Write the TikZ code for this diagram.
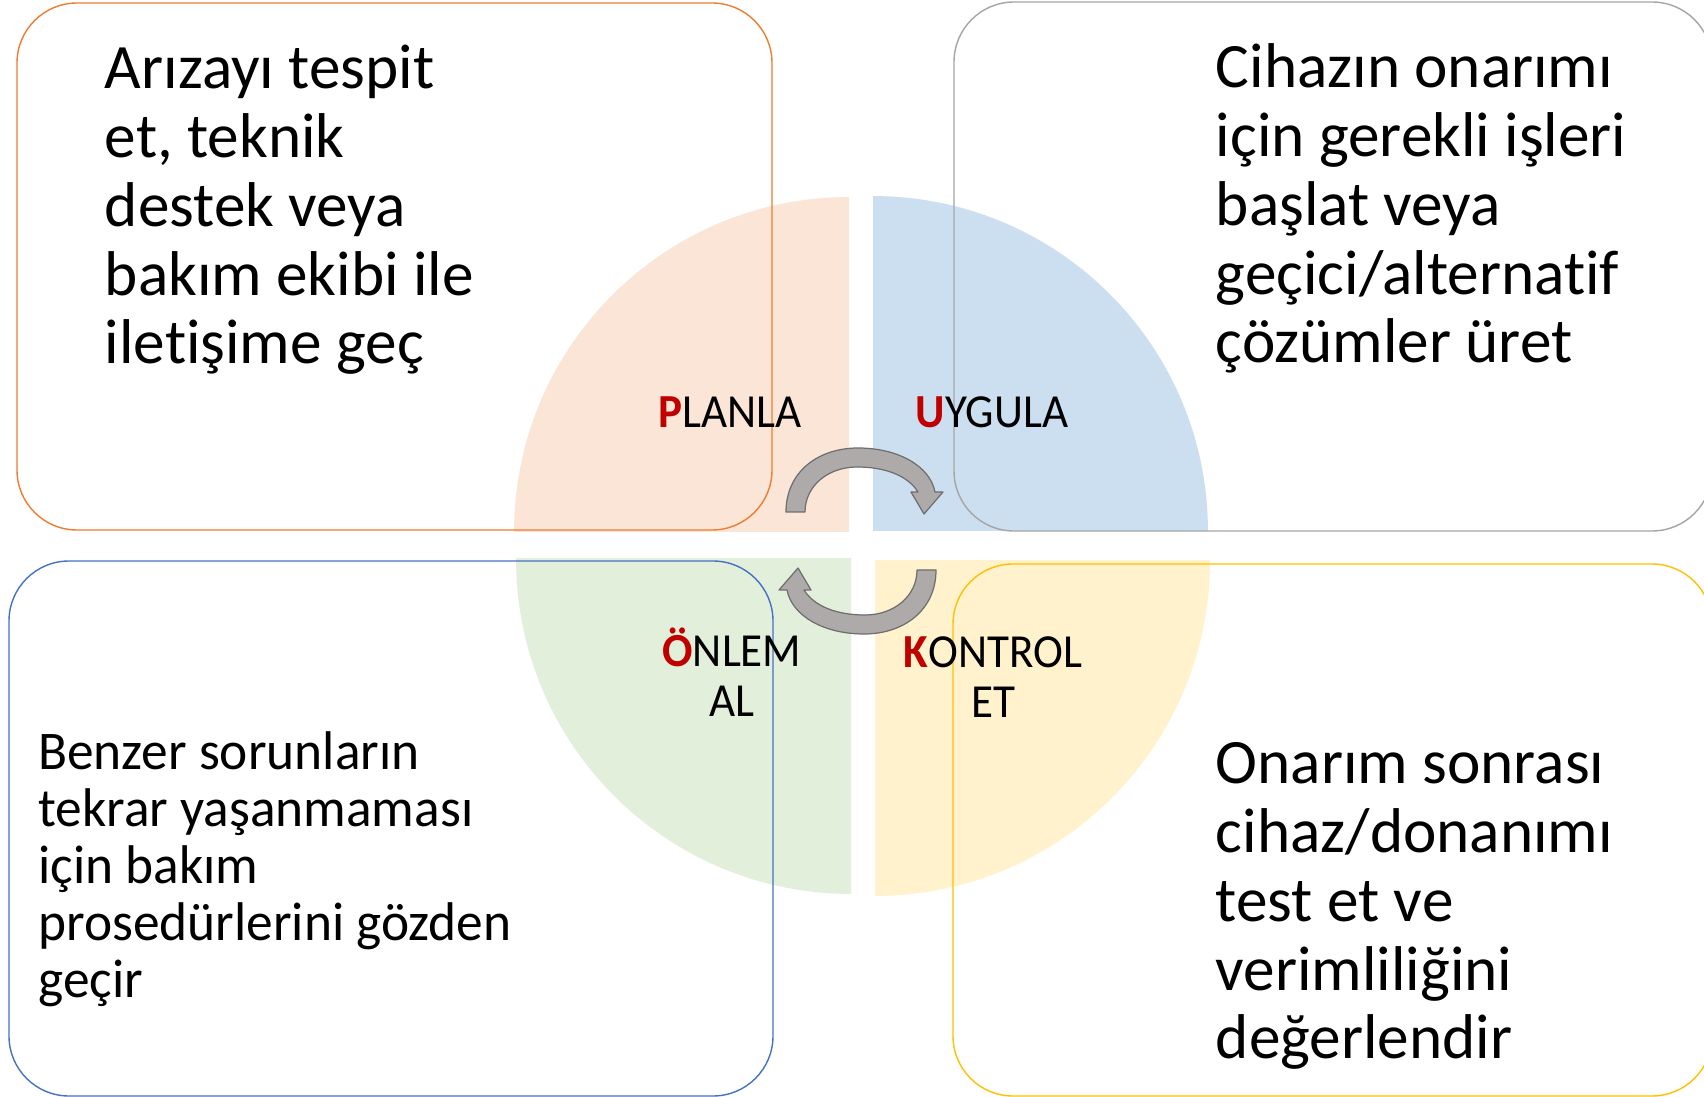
\documentclass[tikz,border=0pt]{standalone}
\usepackage{fontspec}
\setmainfont[Ligatures=NoCommon]{Carlito}
\newfontfamily\condfont[FakeStretch=0.95,Ligatures=NoCommon]{Carlito}
\newfontfamily\midfont[FakeStretch=0.98,Ligatures=NoCommon]{Carlito}
\definecolor{qpeach}{HTML}{FBE5D6}
\definecolor{qblue}{HTML}{CCDFF0}
\definecolor{qgreen}{HTML}{E2EFDA}
\definecolor{qyellow}{HTML}{FFF2CC}
\definecolor{borange}{HTML}{ED7D31}
\definecolor{bgray}{HTML}{A5A5A5}
\definecolor{bblue}{HTML}{4472C4}
\definecolor{byellow}{HTML}{FFC000}
\definecolor{arrfill}{HTML}{AEAAAA}
\definecolor{arrline}{HTML}{6E6E6E}
\definecolor{labred}{HTML}{C00000}
\begin{document}
\begin{tikzpicture}[x=0.02cm,y=-0.02cm,
  boxline/.style={line width=0.8pt, rounded corners=1.2cm},
  arrowshape/.style={fill=arrfill, draw=arrline, line width=0.7pt, line join=round},
  bigtext/.style={inner sep=0pt, font=\fontsize{36pt}{39.13pt}\selectfont},
  midtext/.style={inner sep=0pt, font=\midfont\fontsize{31pt}{32.58pt}\selectfont},
  labtext/.style={inner sep=0pt, font=\condfont\fontsize{27pt}{28.17pt}\selectfont}]
\useasboundingbox (0,0) rectangle (1704,1097);
\clip (0,0) rectangle (1704,1097);
\fill[white] (0,0) rectangle (1704,1097);
% quadrants
\begin{scope}\clip (514,197) rectangle (849,532); \fill[qpeach] (849,532) circle[radius=6.7cm]; \end{scope}
\begin{scope}\clip (873,196) rectangle (1208,531); \fill[qblue] (873,531) circle[radius=6.7cm]; \end{scope}
\begin{scope}\clip (516,559) rectangle (851,894); \fill[qgreen] (851,559) circle[radius=6.7cm]; \end{scope}
\begin{scope}\clip (875,561) rectangle (1210,896); \fill[qyellow] (875,561) circle[radius=6.7cm]; \end{scope}
% boxes
\draw[boxline, draw=borange] (17,3) rectangle (772,530);
\draw[boxline, draw=bgray] (954,2) rectangle (1712,531);
\draw[boxline, draw=bblue] (9,561) rectangle (773,1096);
\draw[boxline, draw=byellow] (953,564) rectangle (1712,1096);
% arrows
\draw[arrowshape] (786,512) .. controls (786,472) and (818,448) .. (858,448)
  .. controls (898,448) and (930,466) .. (935,492) -- (943,492) -- (924,514) -- (911,492) -- (918,492)
  .. controls (908,476) and (886,467) .. (857,467) .. controls (828,467) and (805,486) .. (805,512) -- cycle;
\begin{scope}[rotate around={180:(861,541)}]
\draw[arrowshape] (786,512) .. controls (786,472) and (818,448) .. (858,448)
  .. controls (898,448) and (930,466) .. (935,492) -- (943,492) -- (924,514) -- (911,492) -- (918,492)
  .. controls (908,476) and (886,467) .. (857,467) .. controls (828,467) and (805,486) .. (805,512) -- cycle;
\end{scope}
% box texts
\node[bigtext, anchor=base west] (tltext) at (104.5,89) {\begin{tabular}[t]{@{}l@{}}Arızayı tespit\\et, teknik\\destek veya\\bakım ekibi ile\\iletişime geç\end{tabular}};
\node[bigtext, anchor=base west] (trtext) at (1215.5,88) {\begin{tabular}[t]{@{}l@{}}Cihazın onarımı\\için gerekli işleri\\başlat veya\\geçici/alternatif\\çözümler üret\end{tabular}};
\node[midtext, anchor=base west] (bltext) at (38,769) {\begin{tabular}[t]{@{}l@{}}Benzer sorunların\\tekrar yaşanmaması\\için bakım\\prosedürlerini gözden\\geçir\end{tabular}};
\node[bigtext, anchor=base west] (brtext) at (1215.5,784) {\begin{tabular}[t]{@{}l@{}}Onarım sonrası\\cihaz/donanımı\\test et ve\\verimliliğini\\değerlendir\end{tabular}};
% quadrant labels
\node[labtext, anchor=base] (lplan) at (730,428) {{\bfseries\color{labred}P}LANLA};
\node[labtext, anchor=base] (luyg) at (992,428) {{\bfseries\color{labred}U}YGULA};
\node[labtext, anchor=base] (lonl) at (732,667) {\begin{tabular}[t]{@{}c@{}}{\bfseries\color{labred}Ö}NLEM\\AL\end{tabular}};
\node[labtext, anchor=base] (lkon) at (993,668) {\begin{tabular}[t]{@{}c@{}}{\bfseries\color{labred}K}ONTROL\\ET\end{tabular}};
\end{tikzpicture}
\end{document}
